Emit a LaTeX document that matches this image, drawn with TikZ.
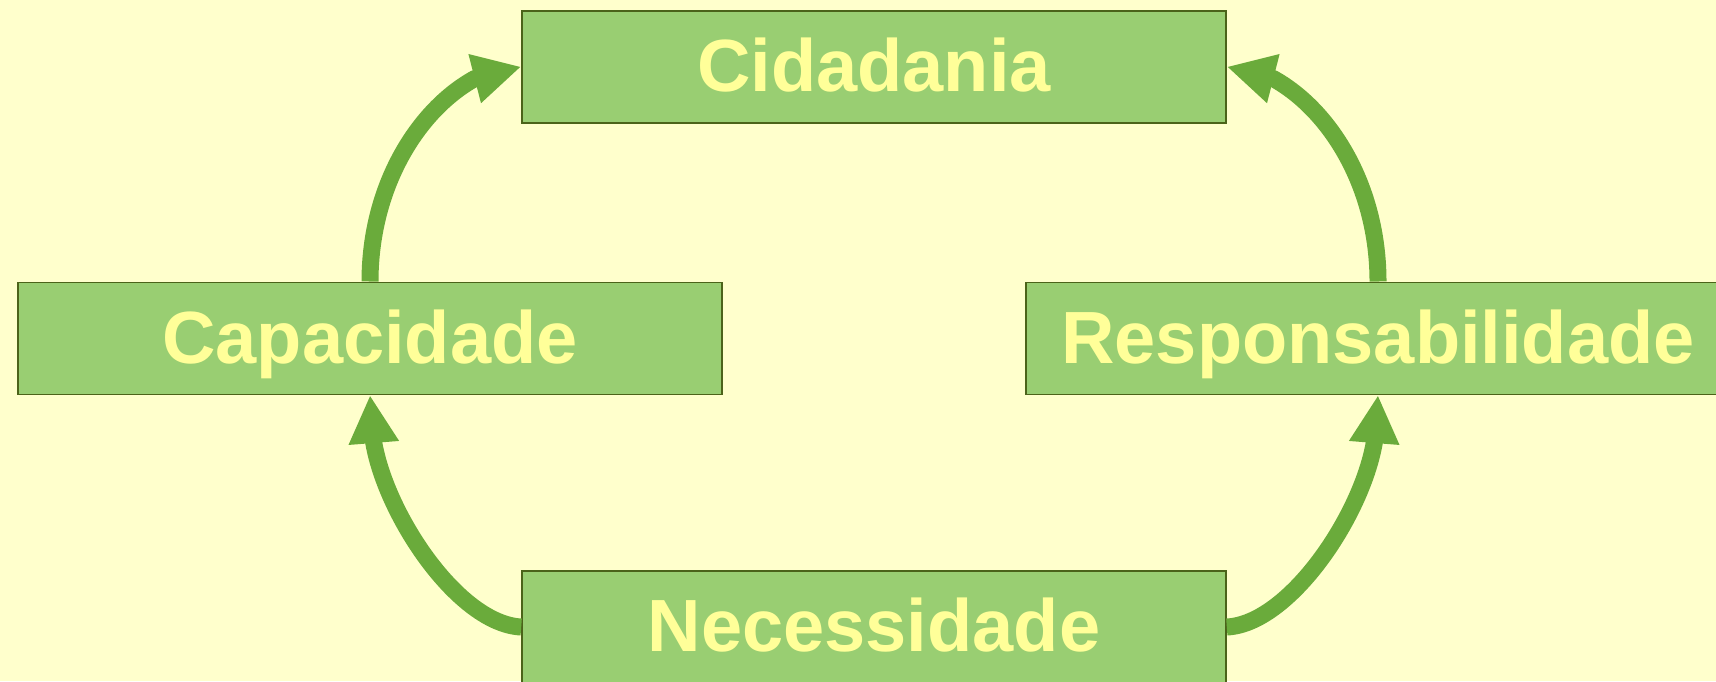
\documentclass[tikz,border=0pt]{standalone}
\usepackage{fontspec}
\setmainfont{Liberation Sans}
\usetikzlibrary{arrows.meta,calc}
\definecolor{bgc}{HTML}{FFFFCC}
\definecolor{boxfill}{HTML}{99CE72}
\definecolor{boxline}{HTML}{4B6319}
\definecolor{arrc}{HTML}{6AAB3B}
\definecolor{txtc}{HTML}{FFFF99}
\begin{document}
\begin{tikzpicture}[x=0.5pt,y=-0.5pt,
  box/.style={draw=boxline, line width=0.8pt, fill=boxfill,
    minimum width=352pt, minimum height=56pt, inner sep=0pt,
    text height=24.8pt, text depth=0pt,
    font=\fontsize{37}{40}\selectfont\bfseries, text=txtc},
  flow/.style={draw=arrc, line width=8.5pt, line join=round, -{Triangle[length=24pt,width=23.5pt]}}]
\fill[bgc] (0,0) rectangle (1716,681);
\useasboundingbox (0,0) rectangle (1716,681);
\clip (0,0) rectangle (1716,681);
\node[box] (cid) at (874,66.7) {Cidadania};
\node[box] (cap) at (370,338.3) {Capacidade};
\node[box] (resp) at (1378,338.3) {Responsabilidade};
\node[box] (nec) at (874,627) {Necessidade};
\draw[flow] (cap.north) .. controls +(0,-95) and +(-56.9,31.5) .. ($(cid.west)+(-46.5,11.9)$) -- (cid.west);
\draw[flow] (resp.north) .. controls +(0,-95) and +(56.9,31.5) .. ($(cid.east)+(46.5,11.9)$) -- (cid.east);
\draw[flow] (nec.west) .. controls +(-62,-3) and +(13,74) .. ($(cap.south)+(3.8,47.9)$) -- (cap.south);
\draw[flow] (nec.east) .. controls +(62,-3) and +(-13,74) .. ($(resp.south)+(-3.8,47.9)$) -- (resp.south);
\end{tikzpicture}
\end{document}
